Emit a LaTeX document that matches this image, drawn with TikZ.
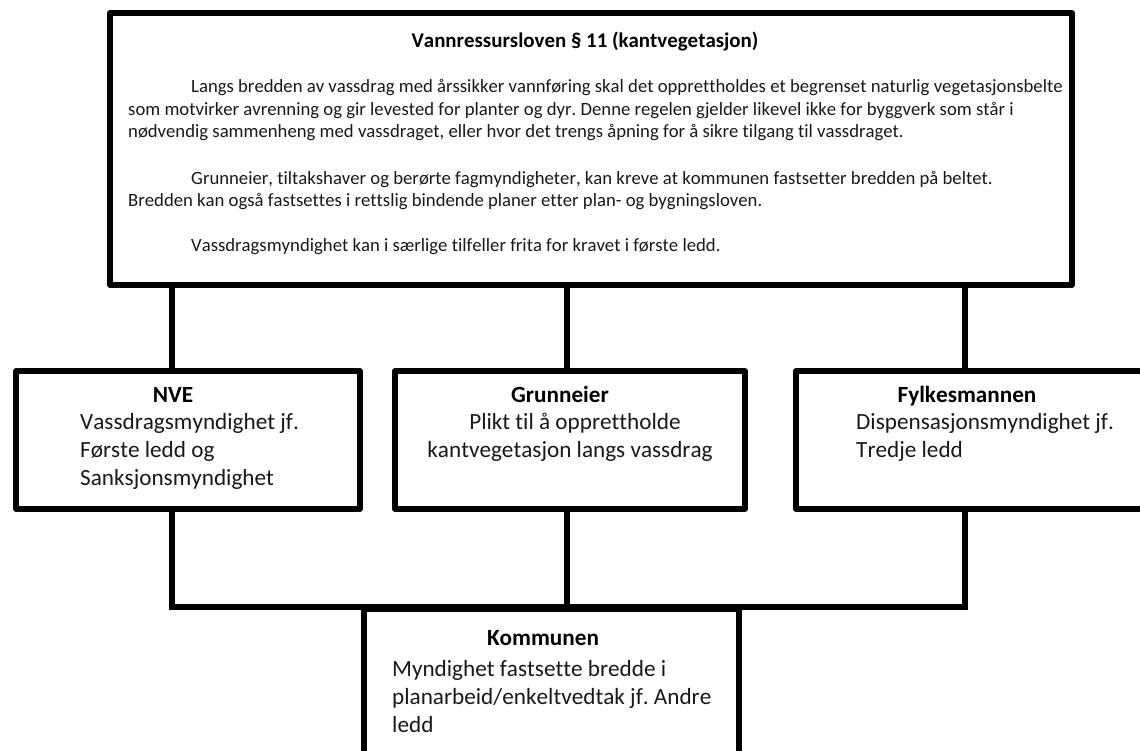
\documentclass[tikz,border=0pt]{standalone}
\usepackage{fontspec}
\setmainfont{Carlito}[Ligatures=NoCommon,Kerning=Off]
\frenchspacing
\begin{document}
\begin{tikzpicture}[x=1pt,y=-1pt,
  box/.style={draw=black,line width=5.5pt,line join=round,fill=white,inner sep=0pt,rectangle},
  conn/.style={draw=black,line width=5.5pt},
  small/.style={font=\fontsize{18.7}{22.5}\selectfont,inner sep=0pt,text=black!90},
  big/.style={font=\fontsize{23.2}{28}\selectfont,inner sep=0pt,text=black!90},
  bigb/.style={font=\fontsize{23.2}{28}\selectfont\bfseries,inner sep=0pt,text=black}]
\useasboundingbox (0,0) rectangle (1140,751);
\clip (0,0) rectangle (1140,751);
\fill[white] (0,0) rectangle (1140,751);

% junction coordinates
\coordinate (j1) at (172,607);
\coordinate (j2) at (567,607);
\coordinate (j3) at (965,607);

% boxes
\node[box,minimum width=962pt,minimum height=272pt] (law) at (591,149) {};
\node[box,minimum width=344pt,minimum height=138pt] (nve) at (188,440) {};
\node[box,minimum width=350pt,minimum height=138pt] (grun) at (570,440) {};
\node[box,minimum width=354pt,minimum height=138pt] (fylk) at (973,440) {};

% connectors
\draw[conn] (j1 |- law.south) -- (j1 |- nve.north);
\draw[conn] (j2 |- law.south) -- (j2 |- grun.north);
\draw[conn] (j3 |- law.south) -- (j3 |- fylk.north);
\draw[conn] (j1 |- nve.south) -- (j1) -- (j3) -- (j3 |- fylk.south);
\draw[conn] (j2 |- grun.south) -- (j2);

\node[box,minimum width=375pt,minimum height=162pt] (komm) at (551.5,690) {};

% law text
\node[small,font=\fontsize{20.9}{24}\selectfont\bfseries,anchor=base,text=black] (title) at (585,48) {Vannressursloven § 11 (kantvegetasjon)};
\node[small,anchor=base west] (l1) at (191,93) {Langs bredden av vassdrag med årssikker vannføring skal det opprettholdes et begrenset naturlig vegetasjonsbelte};
\node[small,anchor=base west] (l2) at (128,115.5) {som motvirker avrenning og gir levested for planter og dyr. Denne regelen gjelder likevel ikke for byggverk som står i};
\node[small,anchor=base west] (l3) at (128,138) {nødvendig sammenheng med vassdraget, eller hvor det trengs åpning for å sikre tilgang til vassdraget.};
\node[small,anchor=base west] (l4) at (191,184.5) {Grunneier, tiltakshaver og berørte fagmyndigheter, kan kreve at kommunen fastsetter bredden på beltet.};
\node[small,anchor=base west] (l5) at (128,207) {Bredden kan også fastsettes i rettslig bindende planer etter plan- og bygningsloven.};
\node[small,anchor=base west] (l6) at (191,252) {Vassdragsmyndighet kan i særlige tilfeller frita for kravet i første ledd.};

% NVE
\node[bigb,anchor=base] (nvet) at (173,402) {NVE};
\node[big,anchor=base west] (nve1) at (80,429) {Vassdragsmyndighet jf.};
\node[big,anchor=base west] (nve2) at (80,457) {Første ledd og};
\node[big,anchor=base west] (nve3) at (80,485) {Sanksjonsmyndighet};

% Grunneier
\node[bigb,anchor=base] (grunt) at (560,402) {Grunneier};
\node[big,anchor=base] (grun1) at (575,429) {Plikt til å opprettholde};
\node[big,anchor=base] (grun2) at (570,457) {kantvegetasjon langs vassdrag};

% Fylkesmannen
\node[bigb,anchor=base] (fylkt) at (967,402) {Fylkesmannen};
\node[big,anchor=base west] (fylk1) at (856,429) {Dispensasjonsmyndighet jf.};
\node[big,anchor=base west] (fylk2) at (856,457) {Tredje ledd};

% Kommunen
\node[bigb,anchor=base] (kommt) at (543,645) {Kommunen};
\node[big,anchor=base west] (komm1) at (392,676) {Myndighet fastsette bredde i};
\node[big,anchor=base west] (komm2) at (392,704) {planarbeid/enkeltvedtak jf. Andre};
\node[big,anchor=base west] (komm3) at (392,732) {ledd};
\end{tikzpicture}
\end{document}
